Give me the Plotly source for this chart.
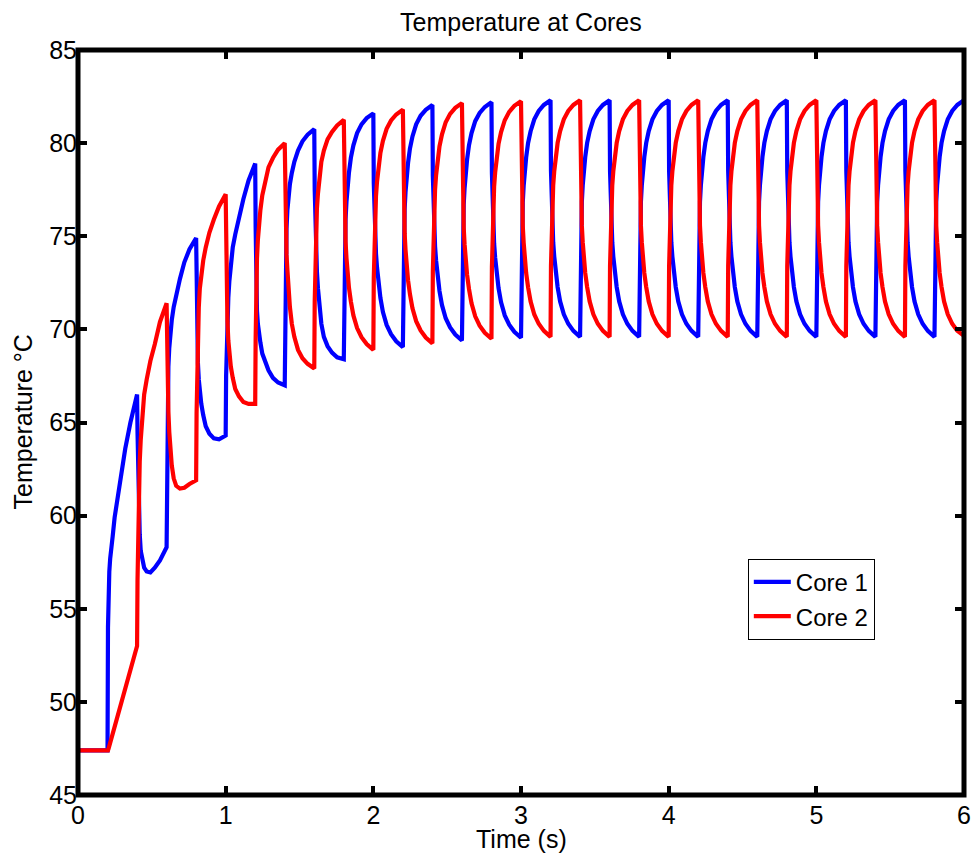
import plotly.graph_objects as go

# Sample times (s): start, then each 0.2 s half-period sampled densely near the switch
time_s = [
    0.0,
    0.2, 0.203, 0.207, 0.212, 0.218, 0.225, 0.235, 0.248, 0.265, 0.29, 0.32, 0.355,
    0.4, 0.403, 0.407, 0.412, 0.418, 0.425, 0.435, 0.448, 0.465, 0.49, 0.52, 0.555,
    0.6, 0.603, 0.607, 0.612, 0.618, 0.625, 0.635, 0.648, 0.665, 0.69, 0.72, 0.755,
    0.8, 0.803, 0.807, 0.812, 0.818, 0.825, 0.835, 0.848, 0.865, 0.89, 0.92, 0.955,
    1.0, 1.003, 1.007, 1.012, 1.018, 1.025, 1.035, 1.048, 1.065, 1.09, 1.12, 1.155,
    1.2, 1.203, 1.207, 1.212, 1.218, 1.225, 1.235, 1.248, 1.265, 1.29, 1.32, 1.355,
    1.4, 1.403, 1.407, 1.412, 1.418, 1.425, 1.435, 1.448, 1.465, 1.49, 1.52, 1.555,
    1.6, 1.603, 1.607, 1.612, 1.618, 1.625, 1.635, 1.648, 1.665, 1.69, 1.72, 1.755,
    1.8, 1.803, 1.807, 1.812, 1.818, 1.825, 1.835, 1.848, 1.865, 1.89, 1.92, 1.955,
    2.0, 2.003, 2.007, 2.012, 2.018, 2.025, 2.035, 2.048, 2.065, 2.09, 2.12, 2.155,
    2.2, 2.203, 2.207, 2.212, 2.218, 2.225, 2.235, 2.248, 2.265, 2.29, 2.32, 2.355,
    2.4, 2.403, 2.407, 2.412, 2.418, 2.425, 2.435, 2.448, 2.465, 2.49, 2.52, 2.555,
    2.6, 2.603, 2.607, 2.612, 2.618, 2.625, 2.635, 2.648, 2.665, 2.69, 2.72, 2.755,
    2.8, 2.803, 2.807, 2.812, 2.818, 2.825, 2.835, 2.848, 2.865, 2.89, 2.92, 2.955,
    3.0, 3.003, 3.007, 3.012, 3.018, 3.025, 3.035, 3.048, 3.065, 3.09, 3.12, 3.155,
    3.2, 3.203, 3.207, 3.212, 3.218, 3.225, 3.235, 3.248, 3.265, 3.29, 3.32, 3.355,
    3.4, 3.403, 3.407, 3.412, 3.418, 3.425, 3.435, 3.448, 3.465, 3.49, 3.52, 3.555,
    3.6, 3.603, 3.607, 3.612, 3.618, 3.625, 3.635, 3.648, 3.665, 3.69, 3.72, 3.755,
    3.8, 3.803, 3.807, 3.812, 3.818, 3.825, 3.835, 3.848, 3.865, 3.89, 3.92, 3.955,
    4.0, 4.003, 4.007, 4.012, 4.018, 4.025, 4.035, 4.048, 4.065, 4.09, 4.12, 4.155,
    4.2, 4.203, 4.207, 4.212, 4.218, 4.225, 4.235, 4.248, 4.265, 4.29, 4.32, 4.355,
    4.4, 4.403, 4.407, 4.412, 4.418, 4.425, 4.435, 4.448, 4.465, 4.49, 4.52, 4.555,
    4.6, 4.603, 4.607, 4.612, 4.618, 4.625, 4.635, 4.648, 4.665, 4.69, 4.72, 4.755,
    4.8, 4.803, 4.807, 4.812, 4.818, 4.825, 4.835, 4.848, 4.865, 4.89, 4.92, 4.955,
    5.0, 5.003, 5.007, 5.012, 5.018, 5.025, 5.035, 5.048, 5.065, 5.09, 5.12, 5.155,
    5.2, 5.203, 5.207, 5.212, 5.218, 5.225, 5.235, 5.248, 5.265, 5.29, 5.32, 5.355,
    5.4, 5.403, 5.407, 5.412, 5.418, 5.425, 5.435, 5.448, 5.465, 5.49, 5.52, 5.555,
    5.6, 5.603, 5.607, 5.612, 5.618, 5.625, 5.635, 5.648, 5.665, 5.69, 5.72, 5.755,
    5.8, 5.803, 5.807, 5.812, 5.818, 5.825, 5.835, 5.848, 5.865, 5.89, 5.92, 5.955,
    6.0,
]

# Core 1 temperature (°C), one row per 0.2 s half-period
core1 = [
    47.4,                                                                              # 0.0
    47.4, 54.0, 56.0, 57.0, 57.7, 58.1, 58.9, 59.9, 60.8, 62.2, 63.6, 65.0,            # 0.2
    66.5, 64.5, 62.0, 60.3, 59.0, 58.1, 57.6, 57.2, 57.0, 56.95, 57.2, 57.6,           # 0.4
    58.3, 62.5, 66.5, 68.0, 69.0, 69.8, 70.5, 71.2, 71.9, 72.7, 73.6, 74.3,            # 0.6
    74.9, 72.0, 69.6, 68.2, 67.3, 66.6, 66.0, 65.4, 64.8, 64.4, 64.15, 64.1,           # 0.8
    64.3, 67.5, 69.5, 70.7, 71.7, 72.6, 73.6, 74.4, 75.1, 76.0, 77.0, 78.0,            # 1.0
    78.9, 75.5, 72.2, 71.0, 70.3, 69.8, 69.3, 68.7, 68.3, 67.8, 67.4, 67.15,           # 1.2
    67.0, 71.0, 73.8, 75.4, 76.4, 77.2, 77.8, 78.4, 79.0, 79.6, 80.1, 80.45,           # 1.4
    80.75, 77.5, 75.4, 74.2, 73.1, 72.2, 71.2, 70.3, 69.6, 69.1, 68.75, 68.5,          # 1.6
    68.4, 72.36, 74.6, 75.92, 76.85, 77.64, 78.43, 79.22, 79.88, 80.54, 81.01, 81.34,  # 1.8
    81.6, 77.83, 75.95, 74.95, 74.07, 73.32, 72.44, 71.69, 70.93, 70.24, 69.74, 69.36, # 2.0
    69.05, 72.95, 75.16, 76.46, 77.37, 78.15, 78.93, 79.71, 80.36, 81.01, 81.47, 81.79,# 2.2
    82.05, 78.25, 76.36, 75.35, 74.46, 73.7, 72.82, 72.06, 71.3, 70.6, 70.1, 69.72,    # 2.4
    69.4, 73.24, 75.42, 76.7, 77.59, 78.36, 79.13, 79.9, 80.54, 81.18, 81.62, 81.94,   # 2.6
    82.2, 78.4, 76.51, 75.5, 74.61, 73.85, 72.97, 72.21, 71.45, 70.75, 70.25, 69.87,   # 2.8
    69.55, 73.38, 75.54, 76.82, 77.71, 78.48, 79.24, 80.01, 80.64, 81.28, 81.73, 82.05,# 3.0
    82.3, 78.49, 76.58, 75.57, 74.68, 73.92, 73.03, 72.27, 71.5, 70.81, 70.3, 69.92,   # 3.2
    69.6, 73.41, 75.57, 76.84, 77.73, 78.49, 79.25, 80.01, 80.65, 81.28, 81.73, 82.05, # 3.4
    82.3, 78.49, 76.58, 75.57, 74.68, 73.92, 73.03, 72.27, 71.5, 70.81, 70.3, 69.92,   # 3.6
    69.6, 73.41, 75.57, 76.84, 77.73, 78.49, 79.25, 80.01, 80.65, 81.28, 81.73, 82.05, # 3.8
    82.3, 78.49, 76.58, 75.57, 74.68, 73.92, 73.03, 72.27, 71.5, 70.81, 70.3, 69.92,   # 4.0
    69.6, 73.41, 75.57, 76.84, 77.73, 78.49, 79.25, 80.01, 80.65, 81.28, 81.73, 82.05, # 4.2
    82.3, 78.49, 76.58, 75.57, 74.68, 73.92, 73.03, 72.27, 71.5, 70.81, 70.3, 69.92,   # 4.4
    69.6, 73.41, 75.57, 76.84, 77.73, 78.49, 79.25, 80.01, 80.65, 81.28, 81.73, 82.05, # 4.6
    82.3, 78.49, 76.58, 75.57, 74.68, 73.92, 73.03, 72.27, 71.5, 70.81, 70.3, 69.92,   # 4.8
    69.6, 73.41, 75.57, 76.84, 77.73, 78.49, 79.25, 80.01, 80.65, 81.28, 81.73, 82.05, # 5.0
    82.3, 78.49, 76.58, 75.57, 74.68, 73.92, 73.03, 72.27, 71.5, 70.81, 70.3, 69.92,   # 5.2
    69.6, 73.41, 75.57, 76.84, 77.73, 78.49, 79.25, 80.01, 80.65, 81.28, 81.73, 82.05, # 5.4
    82.3, 78.49, 76.58, 75.57, 74.68, 73.92, 73.03, 72.27, 71.5, 70.81, 70.3, 69.92,   # 5.6
    69.6, 73.41, 75.57, 76.84, 77.73, 78.49, 79.25, 80.01, 80.65, 81.28, 81.73, 82.05, # 5.8
    82.3,                                                                              # 6.0
]

# Core 2 temperature (°C), one row per 0.2 s half-period
core2 = [
    47.4,                                                                              # 0.0
    47.4, 47.4, 47.49, 47.63, 47.8, 48.0, 48.29, 48.66, 49.14, 49.86, 50.72, 51.72,    # 0.2
    53.0, 56.5, 59.5, 61.5, 62.9, 64.1, 65.4, 66.5, 67.3, 68.3, 69.2, 70.4,            # 0.4
    71.4, 69.0, 67.0, 65.6, 64.5, 63.6, 62.7, 62.0, 61.6, 61.45, 61.5, 61.7,           # 0.6
    61.9, 65.5, 68.3, 69.9, 71.2, 72.2, 73.0, 73.7, 74.4, 75.2, 75.9, 76.6,            # 0.8
    77.25, 74.0, 71.8, 70.4, 69.4, 68.7, 68.0, 67.4, 66.8, 66.4, 66.1, 66.0,           # 1.0
    66.0, 69.5, 72.3, 73.8, 74.8, 75.6, 76.4, 77.2, 77.9, 78.7, 79.2, 79.65,           # 1.2
    80.0, 77.0, 75.0, 74.0, 73.2, 72.3, 71.2, 70.3, 69.6, 68.9, 68.45, 68.15,          # 1.4
    67.9, 71.5, 73.9, 75.3, 76.5, 77.3, 78.2, 79.0, 79.6, 80.2, 80.6, 80.95,           # 1.6
    81.25, 77.54, 75.69, 74.7, 73.84, 73.1, 72.23, 71.49, 70.75, 70.07, 69.58, 69.21,  # 1.8
    68.9, 72.77, 74.96, 76.25, 77.16, 77.93, 78.7, 79.48, 80.12, 80.77, 81.22, 81.54,  # 2.0
    81.8, 78.03, 76.15, 75.15, 74.27, 73.52, 72.64, 71.89, 71.13, 70.44, 69.94, 69.56, # 2.2
    69.25, 73.12, 75.31, 76.6, 77.51, 78.28, 79.05, 79.83, 80.47, 81.12, 81.57, 81.89, # 2.4
    82.15, 78.35, 76.46, 75.45, 74.56, 73.8, 72.92, 72.16, 71.4, 70.7, 70.2, 69.82,    # 2.6
    69.5, 73.33, 75.49, 76.77, 77.66, 78.43, 79.19, 79.96, 80.59, 81.23, 81.68, 82.0,  # 2.8
    82.25, 78.45, 76.56, 75.55, 74.66, 73.9, 73.02, 72.26, 71.5, 70.8, 70.3, 69.92,    # 3.0
    69.6, 73.41, 75.57, 76.84, 77.73, 78.49, 79.25, 80.01, 80.65, 81.28, 81.73, 82.05, # 3.2
    82.3, 78.49, 76.58, 75.57, 74.68, 73.92, 73.03, 72.27, 71.5, 70.81, 70.3, 69.92,   # 3.4
    69.6, 73.41, 75.57, 76.84, 77.73, 78.49, 79.25, 80.01, 80.65, 81.28, 81.73, 82.05, # 3.6
    82.3, 78.49, 76.58, 75.57, 74.68, 73.92, 73.03, 72.27, 71.5, 70.81, 70.3, 69.92,   # 3.8
    69.6, 73.41, 75.57, 76.84, 77.73, 78.49, 79.25, 80.01, 80.65, 81.28, 81.73, 82.05, # 4.0
    82.3, 78.49, 76.58, 75.57, 74.68, 73.92, 73.03, 72.27, 71.5, 70.81, 70.3, 69.92,   # 4.2
    69.6, 73.41, 75.57, 76.84, 77.73, 78.49, 79.25, 80.01, 80.65, 81.28, 81.73, 82.05, # 4.4
    82.3, 78.49, 76.58, 75.57, 74.68, 73.92, 73.03, 72.27, 71.5, 70.81, 70.3, 69.92,   # 4.6
    69.6, 73.41, 75.57, 76.84, 77.73, 78.49, 79.25, 80.01, 80.65, 81.28, 81.73, 82.05, # 4.8
    82.3, 78.49, 76.58, 75.57, 74.68, 73.92, 73.03, 72.27, 71.5, 70.81, 70.3, 69.92,   # 5.0
    69.6, 73.41, 75.57, 76.84, 77.73, 78.49, 79.25, 80.01, 80.65, 81.28, 81.73, 82.05, # 5.2
    82.3, 78.49, 76.58, 75.57, 74.68, 73.92, 73.03, 72.27, 71.5, 70.81, 70.3, 69.92,   # 5.4
    69.6, 73.41, 75.57, 76.84, 77.73, 78.49, 79.25, 80.01, 80.65, 81.28, 81.73, 82.05, # 5.6
    82.3, 78.49, 76.58, 75.57, 74.68, 73.92, 73.03, 72.27, 71.5, 70.81, 70.3, 69.92,   # 5.8
    69.65,                                                                             # 6.0
]

assert len(core1) == len(time_s) == len(core2)

series_names = ["Core 1", "Core 2"]
series_colors = ["#0000FF", "#FF0000"]
x_ticks = [0, 1, 2, 3, 4, 5, 6]
y_ticks = [45, 50, 55, 60, 65, 70, 75, 80, 85]

FONT = "Liberation Sans, Arial, Helvetica, sans-serif"

fig = go.Figure()
for name, color, values in zip(series_names, series_colors, [core1, core2]):
    fig.add_trace(go.Scatter(
        x=time_s, y=values, mode="lines", name=name,
        line=dict(color=color, width=4.2),
    ))

axis_common = dict(
    showgrid=False, zeroline=False, showline=False,
    ticks="inside", ticklen=9, tickwidth=4, tickcolor="black",
    mirror="ticks",
    tickfont=dict(family=FONT, size=25, color="black"),
)

fig.update_layout(
    width=980, height=854,
    margin=dict(l=78, r=9, t=50, b=59),
    paper_bgcolor="white", plot_bgcolor="white",
    font=dict(family=FONT, color="black"),
    xaxis=dict(range=[0, 6], tickvals=x_ticks, ticklabelstandoff=3, **axis_common),
    yaxis=dict(range=[45, 85], tickvals=y_ticks, **axis_common),
    showlegend=True,
    legend=dict(
        x=0.756, y=0.317, xanchor="left", yanchor="top",
        bgcolor="white", bordercolor="black", borderwidth=1,
        itemwidth=37,
        font=dict(family=FONT, size=24, color="black"),
    ),
    shapes=[dict(
        type="rect", xref="paper", yref="paper", x0=0, x1=1, y0=0, y1=1,
        line=dict(color="black", width=5), layer="above",
    )],
    annotations=[
        dict(text="Temperature at Cores", xref="paper", yref="paper",
             x=0.5, y=1, yshift=28, xanchor="center", yanchor="middle",
             showarrow=False, font=dict(family=FONT, size=25, color="black")),
        dict(text="Time (s)", xref="paper", yref="paper",
             x=0.5, y=0, yshift=-44, xanchor="center", yanchor="middle",
             showarrow=False, font=dict(family=FONT, size=25, color="black")),
        dict(text="Temperature °C", xref="paper", yref="paper",
             x=0, xshift=-56, y=0.5, xanchor="center", yanchor="middle",
             textangle=-90,
             showarrow=False, font=dict(family=FONT, size=25, color="black")),
    ],
)

fig.write_html("out.html")
